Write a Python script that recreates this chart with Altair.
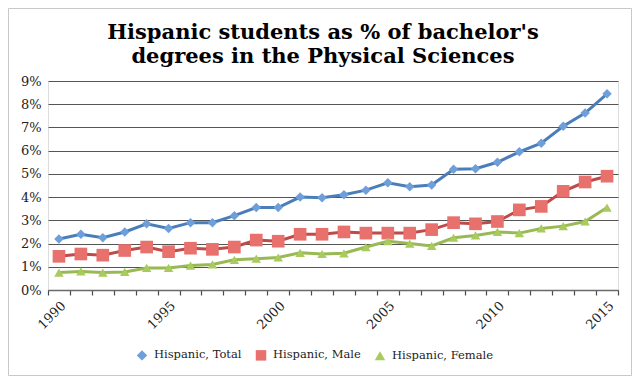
import altair as alt
import pandas as pd

years = list(range(1990, 2016))
series_names = ["Hispanic, Total", "Hispanic, Male", "Hispanic, Female"]
total = [2.2, 2.4, 2.25, 2.5, 2.85, 2.65, 2.9, 2.9, 3.2, 3.55, 3.55, 4.0, 3.97,
         4.1, 4.3, 4.62, 4.45, 4.52, 5.2, 5.22, 5.5, 5.95, 6.32, 7.05, 7.62, 8.45]
male = [1.45, 1.55, 1.5, 1.7, 1.85, 1.65, 1.8, 1.75, 1.85, 2.15, 2.1, 2.4, 2.4,
        2.5, 2.45, 2.45, 2.45, 2.6, 2.9, 2.85, 2.95, 3.45, 3.6, 4.25, 4.65, 4.9]
female = [0.75, 0.8, 0.75, 0.78, 0.95, 0.95, 1.05, 1.1, 1.3, 1.35, 1.4, 1.6, 1.55,
          1.58, 1.85, 2.1, 2.0, 1.9, 2.25, 2.35, 2.5, 2.45, 2.65, 2.75, 2.95, 3.55]
y_ticks = list(range(0, 10))

line_colors = ["#4A7EBB", "#BE4B48", "#98B954"]
marker_colors = ["#6F9FDA", "#E8716E", "#A9CA5D"]
shapes = ["diamond", "square", "triangle-up"]
marker_sizes = [90, 160, 90]

rows = []
for name, vals, msz in zip(series_names, [total, male, female], marker_sizes):
    for yr, v in zip(years, vals):
        rows.append({"year": yr, "series": name, "line": name, "value": v, "msize": msz})
df = pd.DataFrame(rows)

FONT = "DejaVu Serif"

x_enc = alt.X(
    "year:O",
    scale=alt.Scale(type="band", paddingInner=0, paddingOuter=0),
    axis=alt.Axis(
        title=None,
        tickBand="extent",
        labelExpr="datum.value % 5 == 0 ? datum.label : ''",
        labelAngle=-45,
        labelFont=FONT,
        labelFontSize=13,
        labelColor="#222222",
        labelPadding=4,
        domainColor="#6a6a6a",
        domainWidth=1.5,
        tickColor="#4a4a4a",
        tickSize=5,
        tickWidth=1.2,
        grid=False,
    ),
)
y_enc = alt.Y(
    "value:Q",
    scale=alt.Scale(domain=[0, 9], nice=False),
    axis=alt.Axis(
        title=None,
        values=y_ticks,
        labelExpr="datum.value + '%'",
        labelFont=FONT,
        labelFontSize=13,
        labelColor="#222222",
        labelPadding=7,
        domain=False,
        ticks=False,
        grid=True,
        gridColor="#555555",
        gridWidth=1.2,
    ),
)

base = alt.Chart(df).encode(x=x_enc, y=y_enc)

# stroke scale uses a differently ordered domain so that its (hidden) legend
# is not merged with the marker legend
lines = base.mark_line(strokeWidth=3).encode(
    stroke=alt.Stroke(
        "line:N",
        scale=alt.Scale(domain=series_names[::-1], range=line_colors[::-1]),
        legend=None,
    ),
)

points = base.mark_point(filled=True, opacity=1).encode(
    fill=alt.Fill(
        "series:N",
        scale=alt.Scale(domain=series_names, range=marker_colors),
        legend=alt.Legend(
            title=None,
            orient="none",
            direction="horizontal",
            legendX=88,
            legendY=268,
            labelFont=FONT,
            labelFontSize=11.5,
            labelColor="#222222",
            symbolSize=110,
            columnPadding=10,
            labelOffset=6,
        ),
    ),
    shape=alt.Shape("series:N", scale=alt.Scale(domain=series_names, range=shapes)),
    size=alt.Size("msize:Q", scale=None),
)

border = alt.Chart(pd.DataFrame({"a": [0]})).mark_rect(
    fill="transparent", stroke="#c8c8c8", strokeWidth=1
).encode(
    x=alt.value(-39.5), x2=alt.value(583.5), y=alt.value(-72.5), y2=alt.value(294.5)
)

chart = alt.layer(border, lines, points).properties(
    width=570,
    height=209,
    autosize=alt.AutoSizeParams(type="none"),
    padding={"left": 40, "right": 14, "top": 73, "bottom": 86},
    title=alt.TitleParams(
        text=["Hispanic students as % of bachelor's", "degrees in the Physical Sciences"],
        font=FONT,
        fontSize=21,
        fontWeight="bold",
        color="#000000",
        lineHeight=24,
        offset=9,
        dy=68,
        dx=-10,
        anchor="middle",
    ),
).configure_view(stroke=None).configure(background="white")

chart.save("out.html", embed_options={"renderer": "svg", "actions": False})
